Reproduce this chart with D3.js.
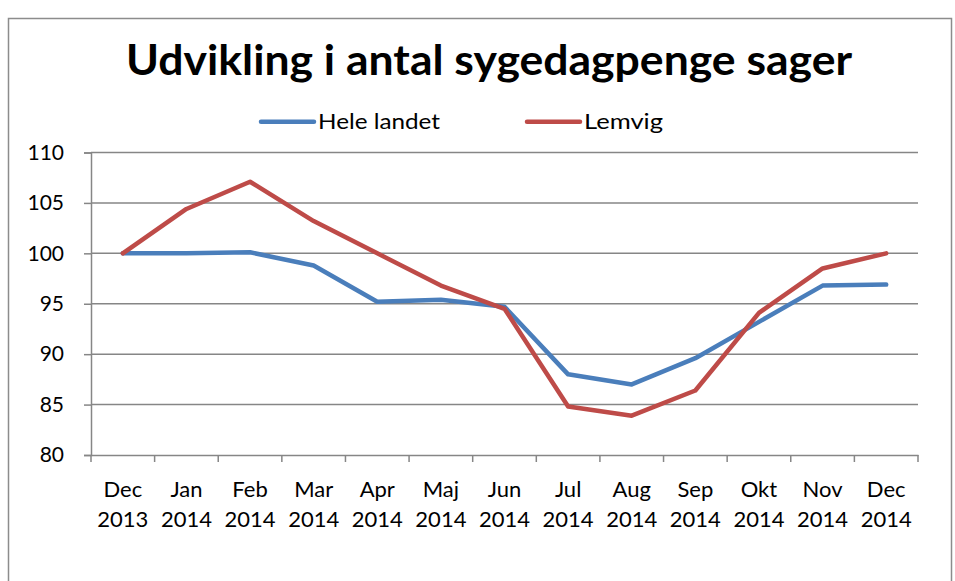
<!DOCTYPE html>
<html>
<head>
<meta charset="utf-8">
<script src="https://cdn.jsdelivr.net/npm/d3@7"></script>
<style>
  body { margin: 0; background: #fff; }
  text { font-family: Lato, "Open Sans", sans-serif; fill: #000; }
</style>
</head>
<body>
<svg id="chart" width="955" height="581"></svg>
<script>
// data
const months = ["Dec", "Jan", "Feb", "Mar", "Apr", "Maj", "Jun", "Jul", "Aug", "Sep", "Okt", "Nov", "Dec"];
const years = ["2013", "2014", "2014", "2014", "2014", "2014", "2014", "2014", "2014", "2014", "2014", "2014", "2014"];
const heleLandet = [100, 100, 100.1, 98.8, 95.2, 95.4, 94.7, 88.0, 87.0, 89.6, 93.2, 96.8, 96.9];
const lemvig = [100, 104.4, 107.1, 103.2, 100.0, 96.8, 94.5, 84.8, 83.9, 86.4, 94.1, 98.5, 100];
const yTicks = [80, 85, 90, 95, 100, 105, 110];

const svg = d3.select("#chart");

// outer frame
svg.append("rect")
  .attr("x", 8.5).attr("y", 18.5)
  .attr("width", 943).attr("height", 620)
  .attr("fill", "none").attr("stroke", "#8c8c8c").attr("stroke-width", 1.5);

const plotLeft = 91, plotRight = 918, plotTop = 152.5, plotBottom = 455;
const idx = months.map((m, i) => i);

const x = d3.scaleBand().domain(idx).range([plotLeft, plotRight]);
const y = d3.scaleLinear().domain([80, 110]).range([plotBottom, plotTop]);

//gridlines
svg.append("g")
  .selectAll("line")
  .data(yTicks.filter(t => t > 80))
  .enter()
  .append("line")
  .attr("x1", plotLeft).attr("x2", plotRight)
  .attr("y1", d => y(d)).attr("y2", d => y(d))
  .attr("stroke", "#868686").attr("stroke-width", 1.5);

// y axis
const yAxis = svg.append("g")
  .attr("transform", `translate(${plotLeft},0)`)
  .call(d3.axisLeft(y).tickValues(yTicks).tickSize(7).tickPadding(20));
yAxis.selectAll("text").style("font-size", "21px");

// x axis, ticks between categories
const xAxis = svg.append("g")
  .attr("transform", `translate(0,${plotBottom})`)
  .call(d3.axisBottom(x).tickSize(0).tickFormat(""));
xAxis.selectAll(".tick").remove();
xAxis.selectAll("line.sep")
  .data(d3.range(idx.length + 1))
  .enter()
  .append("line")
  .attr("class", "sep")
  .attr("x1", i => plotLeft + i * x.step()).attr("x2", i => plotLeft + i * x.step())
  .attr("y1", 0).attr("y2", 7)
  .attr("stroke", "#868686").attr("stroke-width", 1.5);

svg.selectAll(".domain, .tick line").attr("stroke", "#868686").attr("stroke-width", 1.5);

const labels = svg.append("g")
  .selectAll("text")
  .data(idx)
  .enter()
  .append("text")
  .attr("text-anchor", "middle")
  .style("font-size", "22px");
labels.append("tspan").attr("x", i => x(i) + x.bandwidth() / 2).attr("y", 497).text(i => months[i]);
labels.append("tspan").attr("x", i => x(i) + x.bandwidth() / 2).attr("y", 527).text(i => years[i]);

// lines
const line = d3.line()
  .x((d, i) => x(i) + x.bandwidth() / 2)
  .y(d => y(d));

const series = [
  { name: "Hele landet", values: heleLandet, color: "#4a7ebb", textW: 122 },
  { name: "Lemvig", values: lemvig, color: "#be4b48", textW: 79 }
];

svg.selectAll("path.series")
  .data(series)
  .enter()
  .append("path")
  .attr("class", "series")
  .attr("d", d => line(d.values))
  .attr("fill", "none")
  .attr("stroke", d => d.color)
  .attr("stroke-width", 4.5)
  .attr("stroke-linejoin", "round")
  .attr("stroke-linecap", "round");

// title
svg.append("text")
  .attr("x", 126).attr("y", 75)
  .attr("textLength", 726).attr("lengthAdjust", "spacingAndGlyphs")
  .style("font-size", "42px").style("font-weight", "bold")
  .text("Udvikling i antal sygedagpenge sager");

// legend
const legendX = [259, 525];
const lg = svg.selectAll("g.legend")
  .data(series)
  .enter()
  .append("g")
  .attr("class", "legend")
  .attr("transform", (d, i) => `translate(${legendX[i]},121.7)`);
lg.append("line")
  .attr("x1", 2).attr("x2", 55)
  .attr("stroke", d => d.color).attr("stroke-width", 4.5).attr("stroke-linecap", "round");
lg.append("text")
  .attr("x", 59).attr("y", 7.6)
  .attr("textLength", d => d.textW).attr("lengthAdjust", "spacingAndGlyphs")
  .style("font-size", "22px")
  .text(d => d.name);
</script>
</body>
</html>
